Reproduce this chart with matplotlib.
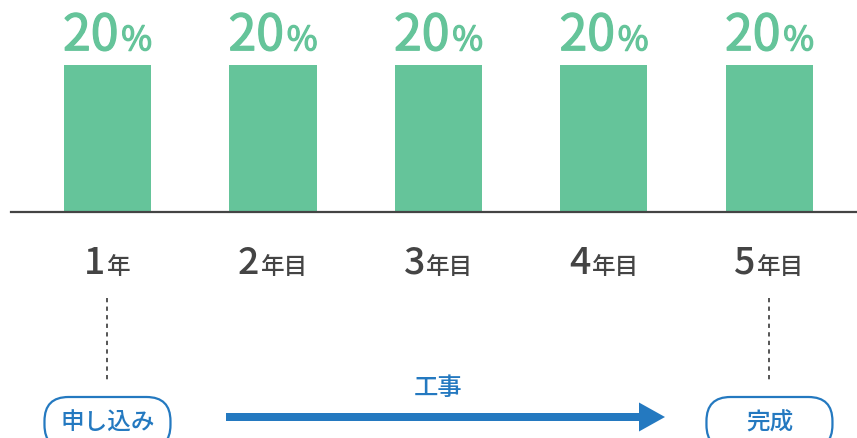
import matplotlib
matplotlib.use("Agg")
import matplotlib.pyplot as plt
from matplotlib.offsetbox import TextArea, HPacker, AnnotationBbox
from matplotlib.patches import FancyBboxPatch, FancyArrow
import matplotlib.patheffects as pe
import matplotlib.transforms as mtransforms

# ---- data ----
year_nums = ["1", "2", "3", "4", "5"]
year_suffix = ["年", "年目", "年目", "年目", "年目"]
shares = [20, 20, 20, 20, 20]
start_label = "申し込み"
end_label = "完成"
mid_label = "工事"

GREEN = "#65c49a"
GRAY = "#444444"
BLUE = "#2479c0"
JP = ["Noto Sans CJK JP", "DejaVu Sans"]

W, H = 857, 439
fig = plt.figure(figsize=(W / 100, H / 100), dpi=100)

# bar axes: baseline at y=213px, left edge x=11px
ax = fig.add_axes([11 / W, (H - 213) / H, 1 - 11 / W, 213 / H])
x = list(range(len(shares)))
ax.bar(x, shares, width=0.526, color=GREEN, zorder=2)
ax.set_xlim(-0.583, 4.529)
ax.set_ylim(0, 28.98)
for s in ["top", "left", "right"]:
    ax.spines[s].set_visible(False)
ax.spines["bottom"].set_color(GRAY)
ax.spines["bottom"].set_linewidth(1.6)
ax.spines["bottom"].set_zorder(3)
ax.set_xticks([])
ax.set_yticks([])
ax.patch.set_alpha(0)


def combo(big, small, color, bsize, ssize, weight="medium", sep=1, stroke=0):
    eff = [pe.withStroke(linewidth=stroke, foreground=color)] if stroke else []
    a = TextArea(big, textprops=dict(fontsize=bsize, color=color, family=JP,
                                     fontweight=weight, path_effects=eff))
    b = TextArea(small, textprops=dict(fontsize=ssize, color=color, family=JP,
                                       fontweight=weight, path_effects=eff))
    return HPacker(children=[a, b], align="baseline", pad=0, sep=sep)


for i, v in enumerate(shares):
    box = combo(str(v), "%", GREEN, 36, 24, weight="normal", sep=2, stroke=0.9)
    ab = AnnotationBbox(box, (i, v), xybox=(0, 2), xycoords="data",
                        boxcoords="offset points", box_alignment=(0.5, 0),
                        frameon=False, annotation_clip=False)
    ax.add_artist(ab)
    lab = combo(year_nums[i], year_suffix[i], GRAY, 27, 17, weight="medium", sep=1)
    ab2 = AnnotationBbox(lab, (i, 0), xybox=(0, -22), xycoords="data",
                         boxcoords="offset points", box_alignment=(0.5, 1),
                         frameon=False, annotation_clip=False)
    ax.add_artist(ab2)

# overlay axes in pixel units (y up)
ov = fig.add_axes([0, 0, 1, 1])
ov.set_xlim(0, W)
ov.set_ylim(0, H)
ov.axis("off")
ov.patch.set_alpha(0)

# x from bar axes data, y in overlay pixels
bt = mtransforms.blended_transform_factory(ax.transData, ov.transData)

for idx in [0, len(shares) - 1]:
    ov.plot([idx, idx], [H - 299, H - 383], transform=bt, color="#555555",
            lw=1.4, linestyle=(0, (2.2, 2.2)), clip_on=False)

# rounded boxes
for idx, txt in [(0, start_label), (len(shares) - 1, end_label)]:
    cx_disp = ax.transData.transform((idx, 0))[0]
    cx = ov.transData.inverted().transform((cx_disp, 0))[0]
    bw, bh = 126, 52
    p = FancyBboxPatch((cx - bw / 2, H - 398 - bh), bw, bh,
                       boxstyle="round,pad=0,rounding_size=24",
                       fc="white", ec=BLUE, lw=1.6, clip_on=False)
    ov.add_patch(p)
    ov.text(cx, H - 423, txt, ha="center", va="center", fontsize=17,
            color=BLUE, family=JP, fontweight="medium")

# arrow
ov.add_patch(FancyArrow(226, H - 418, 439, 0, width=8, head_width=29,
                        head_length=26, length_includes_head=True,
                        color=BLUE, lw=0))
mid_disp = ax.transData.transform((2, 0))[0]
mx = ov.transData.inverted().transform((mid_disp, 0))[0]
ov.text(mx, H - 388, mid_label, ha="center", va="center", fontsize=17.5,
        color=BLUE, family=JP, fontweight="medium")

fig.savefig("out.png", dpi=100)
